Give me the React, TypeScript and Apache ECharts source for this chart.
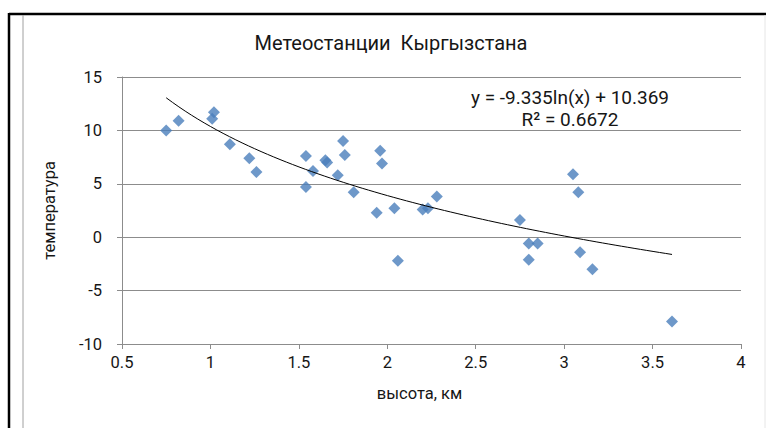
import React, { useEffect, useRef } from "react";
import * as echarts from "echarts";

const TITLE = "Метеостанции  Кыргызстана";
const X_NAME = "высота, км";
const Y_NAME = "температура";
const EQ_TEXT = "y = -9.335ln(x) + 10.369";
const R2_TEXT = "R² = 0.6672";

// station heights (km) and temperatures (°C)
const heights = [
  0.75, 0.82, 1.02, 1.01, 1.11, 1.22, 1.26, 1.54, 1.54, 1.58, 1.65, 1.66,
  1.75, 1.76, 1.72, 1.81, 1.96, 1.97, 1.94, 2.04, 2.06, 2.2, 2.23, 2.28,
  2.75, 2.8, 2.85, 2.8, 3.05, 3.08, 3.09, 3.16, 3.61,
];
const temps = [
  10.0, 10.9, 11.7, 11.1, 8.7, 7.4, 6.1, 7.6, 4.7, 6.2, 7.2, 7.0,
  9.0, 7.7, 5.8, 4.2, 8.1, 6.9, 2.3, 2.7, -2.2, 2.6, 2.7, 3.8,
  1.6, -0.6, -0.6, -2.1, 5.9, 4.2, -1.4, -3.0, -7.9,
];

// trendline coefficients as shown in the chart: y = A ln(x) + B
const TREND_A = -9.335;
const TREND_B = 10.369;

const X_MIN = 0.5;
const X_MAX = 4;
const X_STEP = 0.5;
const Y_MIN = -10;
const Y_MAX = 15;
const Y_STEP = 5;

const FONT = "Roboto, 'Noto Sans', sans-serif";
const TEXT_COLOR = "#161616";

export default function App() {
  const ref = useRef<HTMLDivElement>(null);

  useEffect(() => {
    if (!ref.current) return;
    const chart = echarts.init(ref.current, undefined, { renderer: "svg" });

    const points = heights.map((h, i) => [h, temps[i]]);
    const xLo = Math.min(...heights);
    const xHi = Math.max(...heights);
    const nSeg = 80;
    const trend: number[][] = [];
    for (let i = 0; i <= nSeg; i++) {
      const x = xLo + ((xHi - xLo) * i) / nSeg;
      trend.push([x, TREND_A * Math.log(x) + TREND_B]);
    }

    chart.setOption({
      animation: false,
      backgroundColor: "#ffffff",
      textStyle: { fontFamily: FONT },
      title: {
        text: TITLE,
        left: 386,
        top: 28,
        textAlign: "center",
        textStyle: { fontFamily: FONT, fontSize: 20, fontWeight: "normal", color: TEXT_COLOR },
      },
      grid: { left: 122, right: 25, top: 77, bottom: 84 },
      xAxis: {
        type: "value",
        min: X_MIN,
        max: X_MAX,
        interval: X_STEP,
        name: X_NAME,
        nameLocation: "middle",
        nameGap: 41,
        nameTextStyle: { fontFamily: FONT, fontSize: 16.5, color: TEXT_COLOR, padding: [0, 24, 0, 0] },
        axisLine: { show: true, onZero: false, lineStyle: { color: "#8c8c8c", width: 1 } },
        axisTick: { show: true, length: 5, lineStyle: { color: "#8c8c8c" } },
        axisLabel: { fontFamily: FONT, fontSize: 16.5, color: TEXT_COLOR, margin: 10 },
        splitLine: { show: false },
      },
      yAxis: {
        type: "value",
        min: Y_MIN,
        max: Y_MAX,
        interval: Y_STEP,
        name: Y_NAME,
        nameLocation: "middle",
        nameGap: 64,
        nameRotate: 90,
        nameTextStyle: { fontFamily: FONT, fontSize: 16.5, color: TEXT_COLOR },
        axisLine: { show: true, onZero: false, lineStyle: { color: "#8c8c8c", width: 1 } },
        axisTick: { show: true, length: 5, lineStyle: { color: "#8c8c8c" } },
        axisLabel: { fontFamily: FONT, fontSize: 16.5, color: TEXT_COLOR, margin: 20 },
        splitLine: { show: true, lineStyle: { color: "#8c8c8c", width: 1 } },
      },
      series: [
        {
          type: "scatter",
          data: points,
          symbol: "diamond",
          symbolSize: 12,
          itemStyle: { color: "#4a7ebb" },
          z: 3,
        },
        {
          type: "line",
          data: trend,
          showSymbol: false,
          symbol: "none",
          smooth: false,
          lineStyle: { color: "#000", width: 1 },
          z: 4,
        },
      ],
      graphic: [
        {
          type: "line",
          shape: { x1: 9, y1: 14, x2: 766, y2: 14 },
          style: { stroke: "#000", lineWidth: 2.5 },
        },
        {
          type: "line",
          shape: { x1: 9, y1: 13, x2: 9, y2: 428 },
          style: { stroke: "#000", lineWidth: 2.5 },
        },
        {
          type: "line",
          shape: { x1: 23, y1: 15, x2: 23, y2: 428 },
          style: { stroke: "#a0a0a0", lineWidth: 1 },
        },
        {
          type: "line",
          shape: { x1: 765, y1: 15, x2: 765, y2: 428 },
          style: { stroke: "#e6e6e6", lineWidth: 1 },
        },
        {
          type: "text",
          x: 570,
          y: 97,
          style: {
            text: EQ_TEXT,
            fontFamily: FONT,
            fontSize: 19,
            fill: TEXT_COLOR,
            align: "center",
            verticalAlign: "middle",
          },
        },
        {
          type: "text",
          x: 570,
          y: 119,
          style: {
            text: R2_TEXT,
            fontFamily: FONT,
            fontSize: 19,
            fill: TEXT_COLOR,
            align: "center",
            verticalAlign: "middle",
          },
        },
      ],
    });

    return () => chart.dispose();
  }, []);

  return (
    <div
      ref={ref}
      style={{ width: 766, height: 428, position: "fixed", left: 0, top: 0 }}
    />
  );
}
